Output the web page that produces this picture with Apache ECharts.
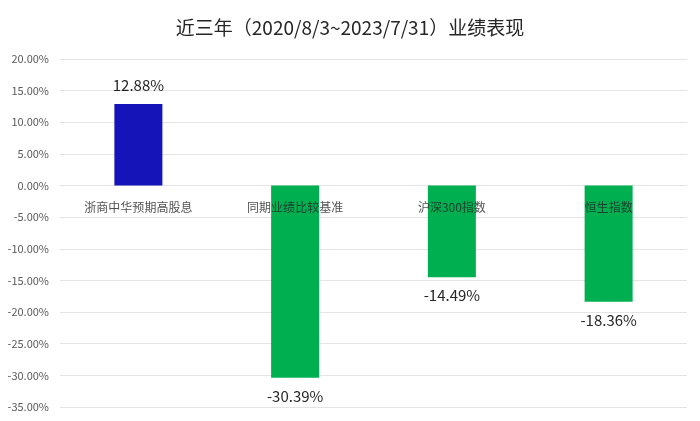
<!DOCTYPE html>
<html>
<head>
<meta charset="utf-8">
<script src="https://cdn.jsdelivr.net/npm/echarts@6/dist/echarts.min.js"></script>
<style>html,body{margin:0;padding:0;background:#fff;}#c{width:700px;height:421px;}</style>
</head>
<body>
<div id="c"></div>
<script>
var titleText = '近三年（2020/8/3~2023/7/31）业绩表现';
var categories = ['浙商中华预期高股息', '同期业绩比较基准', '沪深300指数', '恒生指数'];
var values = [12.88, -30.39, -14.49, -18.36];
var barColors = ['#1414b8', '#00b050', '#00b050', '#00b050'];
var yMin = -35, yMax = 20, yStep = 5;

var font = '"Noto Sans CJK SC", "Noto Sans", sans-serif';
var chart = echarts.init(document.getElementById('c'), null, {renderer: 'canvas'});
chart.setOption({
  backgroundColor: '#fff',
  animation: false,
  textStyle: {fontFamily: font},
  title: {
    text: titleText, left: 'center', top: 13,
    textStyle: {fontFamily: font, fontSize: 19, fontWeight: 'normal', color: '#262626'}
  },
  grid: {left: 60, right: 13, top: 59, bottom: 14, containLabel: false, outerBoundsMode: 'none'},
  xAxis: {
    type: 'category', data: categories,
    axisLine: {show: false}, axisTick: {show: false},
    axisLabel: {show: false}
  },
  yAxis: {
    type: 'value', min: yMin, max: yMax, interval: yStep,
    axisLine: {show: false}, axisTick: {show: false},
    splitLine: {lineStyle: {color: '#e4e4e4', width: 1}},
    axisLabel: {margin: 11, fontSize: 11, color: '#595959', fontFamily: font,
      formatter: function (v) { return v.toFixed(2) + '%'; }}
  },
  series: [{
    type: 'bar', barWidth: 48,
    data: values.map(function (v, i) {
      return {value: v, itemStyle: {color: barColors[i]},
        label: {position: v >= 0 ? 'top' : 'bottom'}};
    }),
    label: {show: true, distance: 11, fontSize: 15, color: '#262626', fontFamily: font,
      textBorderWidth: 0,
      formatter: function (p) { return p.value.toFixed(2) + '%'; }}
  }, {
    type: 'scatter', z: 10, silent: true,
    symbolSize: 1, itemStyle: {color: 'rgba(0,0,0,0)'},
    data: categories.map(function (c) { return [c, 0]; }),
    label: {show: true, position: 'bottom', distance: 15, fontSize: 12, color: '#262626', fontFamily: font,
      textBorderWidth: 0, textBorderColor: 'transparent',
      formatter: function (p) { return p.name || p.value[0]; }}
  }]
});
</script>
</body>
</html>
